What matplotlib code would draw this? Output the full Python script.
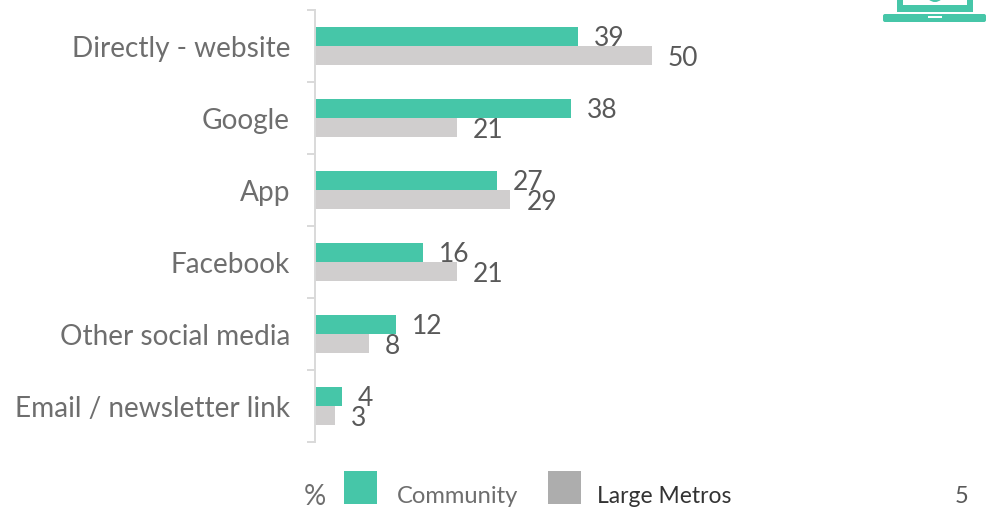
import matplotlib.pyplot as plt
from matplotlib.patches import Circle, FancyBboxPatch, Rectangle

plt.rcParams['font.family'] = ['Lato', 'DejaVu Sans']

categories = ['Directly - website', 'Google', 'App', 'Facebook', 'Other social media', 'Email / newsletter link']
community = [39, 38, 27, 16, 12, 4]
large_metros = [50, 21, 29, 21, 8, 3]

W, H = 986, 510
teal = '#46C6A8'
grey = '#D0CECE'

fig = plt.figure(figsize=(W / 100, H / 100), dpi=100)
ax = fig.add_axes([315 / W, (H - 443) / H, (652 - 315) / W, 432 / H])

y = list(range(len(categories)))
bar_h = 19 / 72
ax.barh([i - bar_h / 2 for i in y], community, height=bar_h, color=teal)
ax.barh([i + bar_h / 2 for i in y], large_metros, height=bar_h, color=grey)

ax.set_xlim(0, 50)
ax.set_ylim(5.5, -0.5)
ax.set_xticks([])
ax.set_yticks([i - 0.5 for i in range(len(categories) + 1)], labels=[])
ax.set_yticks(y, labels=categories, minor=True)
ax.tick_params(axis='y', which='major', length=6, width=1.4, color='#D9D9D9')
ax.tick_params(axis='y', which='minor', length=0, pad=18, labelsize=20.2, labelcolor='#6E6E6E')
for s in ['top', 'right', 'bottom']:
    ax.spines[s].set_visible(False)
ax.spines['left'].set_color('#D9D9D9')
ax.spines['left'].set_linewidth(1.4)

for i in y:
    ax.annotate(str(community[i]), (community[i], i - bar_h / 2), xytext=(11.5, -1), textcoords='offset points',
                va='center', fontsize=19, color='#595959', annotation_clip=False)
    ax.annotate(str(large_metros[i]), (large_metros[i], i + bar_h / 2), xytext=(11.5, -1.5), textcoords='offset points',
                va='center', fontsize=19, color='#595959', annotation_clip=False)

# overlay in pixel coords for legend, icon, page number
over = fig.add_axes([0, 0, 1, 1])
over.set_xlim(0, W)
over.set_ylim(H, 0)
over.axis('off')

over.text(315, 497, '%', ha='center', va='center', fontsize=20, color='#6E6E6E')
over.add_patch(Rectangle((344, 472), 33, 33, color=teal, lw=0))
over.text(397, 497, 'Community', va='center', fontsize=17.1, color='#6E6E6E')
over.add_patch(Rectangle((548, 472), 33, 33, color='#ADADAD', lw=0))
over.text(597, 497, 'Large Metros', va='center', fontsize=16.5, color='#333333')

# laptop icon cut off by the top edge
over.add_patch(Rectangle((897, -5), 76, 18, color=teal, lw=0))
over.add_patch(Rectangle((903, -5), 64, 11, color='white', lw=0))
over.add_patch(Circle((935, -6), 9, color=teal, lw=0))
over.add_patch(FancyBboxPatch((885, 17), 99, 4, boxstyle='round,pad=2', color=teal, lw=0))
over.add_patch(Rectangle((928, 17), 14, 2, color='white', lw=0))

over.text(962, 497, '5', ha='center', va='center', fontsize=17, color='#595959')

fig.savefig('out.png', dpi=100)
